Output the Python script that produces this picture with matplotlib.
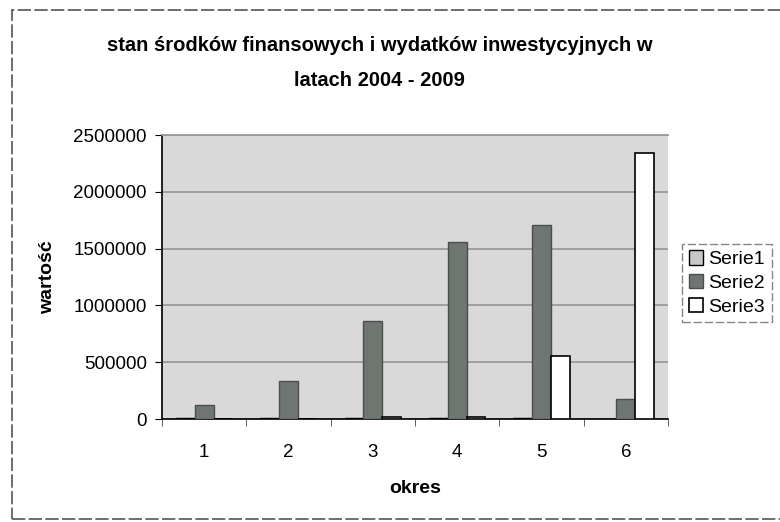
import matplotlib.pyplot as plt
import matplotlib.patches as mpatches
import numpy as np

plt.rcParams["font.family"] = ["Liberation Sans", "DejaVu Sans"]

okres = [1, 2, 3, 4, 5, 6]
serie1 = [8000, 7000, 8000, 6000, 5000, 4000]
serie2 = [123000, 335000, 862000, 1558000, 1708000, 176000]
serie3 = [3000, 4000, 14000, 20000, 555000, 2342000]
yticks = [0, 500000, 1000000, 1500000, 2000000, 2500000]

fig = plt.figure(figsize=(7.8, 5.22), dpi=100)
ax = fig.add_axes([162 / 780, 1 - 419 / 522, 506 / 780, 284 / 522])

# outer chart frame
fig.patches.append(mpatches.Rectangle((12 / 780, 3 / 522), 1.0, 509 / 522,
                                      transform=fig.transFigure, fill=False,
                                      edgecolor="#555555", linewidth=1.2,
                                      linestyle=(0, (8, 2))))

x = np.arange(len(okres))
w = 1 / 4.5
ax.bar(x - w, serie1, w, color="#c8c8c8", edgecolor="black", linewidth=1, label="Serie1", zorder=3)
ax.bar(x, serie2, w, color="#6f7672", edgecolor="#4a4f4c", linewidth=1, label="Serie2", zorder=3)
ax.bar(x + w, serie3, w, color="white", edgecolor="black", linewidth=1.2, label="Serie3", zorder=3)

ax.set_facecolor("#d9d9d9")
ax.set_xlim(-0.5, len(okres) - 0.5)
ax.set_ylim(0, 2500000)
ax.set_yticks(yticks)
ax.set_yticklabels([str(v) for v in yticks])
ax.yaxis.grid(True, color="#9a9a9a", linewidth=1.3, zorder=0)
ax.set_axisbelow(True)

ax.set_xticks(x)
ax.set_xticklabels([str(o) for o in okres])
ax.set_xticks(np.arange(len(okres) + 1) - 0.5, minor=True)
ax.tick_params(axis="x", which="major", length=0, pad=18, labelsize=13.5)
ax.tick_params(axis="x", which="minor", length=5, direction="out", color="#444444")
ax.tick_params(axis="y", length=5, direction="out", pad=6, labelsize=13.5)

for s in ["left", "bottom"]:
    ax.spines[s].set_color("black")
    ax.spines[s].set_linewidth(1.2)
ax.spines["top"].set_color("#9a9a9a")
ax.spines["top"].set_linewidth(1.3)
ax.spines["right"].set_visible(False)

ax.set_xlabel("okres", fontsize=14, fontweight="bold", labelpad=14)
ax.set_ylabel("wartość", fontsize=14, fontweight="bold", labelpad=12)

fig.text(0.487, 1 - 45 / 522, "stan środków finansowych i wydatków inwestycyjnych w",
         ha="center", va="center", fontsize=14.5, fontweight="bold")
fig.text(0.487, 1 - 80 / 522, "latach 2004 - 2009",
         ha="center", va="center", fontsize=14.5, fontweight="bold")

leg = ax.legend(loc="center left", bbox_to_anchor=(682 / 780, 1 - 283 / 522),
                bbox_transform=fig.transFigure, fontsize=14, frameon=True,
                fancybox=False, handlelength=0.75, handleheight=0.75,
                handletextpad=0.25, borderpad=0.35, labelspacing=0.3,
                borderaxespad=0)
leg.get_frame().set_edgecolor("#666666")
leg.get_frame().set_linestyle((0, (6, 2)))

fig.savefig("out.png", dpi=100)
